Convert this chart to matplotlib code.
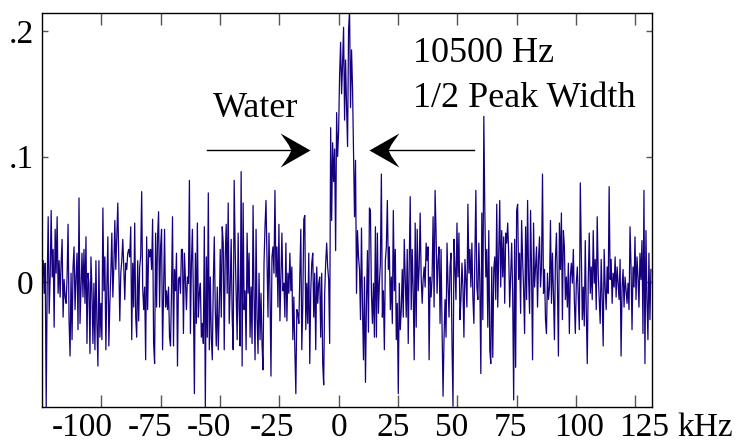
# Water peak spectrum (noise + resonance near 0 kHz)

import numpy as np
import matplotlib
matplotlib.use('Agg')
import matplotlib.pyplot as plt
from matplotlib.path import Path
from matplotlib.transforms import ScaledTranslation

# signal values, in thousandths, left to right
seg_a = [17, -9, 15, -100, -1, 52, -25, 4, 57, 4,
         26, -36, 42, 7, 52, -9, 17, -12, 15, 34,
         -28, 2, -12, -17, 4, 46, -31, -59, 7, -46,
         12, 28, -22, 4, 23, -38, 67, -33, -4, 23,
         -12, 26, -17, 36, -49, 7, -1, -57, 20, -7,
         -49, -1, -54, 17, -33, -67, 17, -44, -17, -46,
         59, -7, 20, -54, -4, 36, -51, -17, 7, 39,
         -12, 12, 49, 10, 36, 63, 15, -31, 7, 17,
         34, 12, -14, 15, 10, 23, 26, 20, 44, -46,
         15, -20, 47, -28, -44, 17, -31, 12, 20, 72,
         -4, -22, -4]
seg_b = [-62, 36, -22, 26, 20, 26, 10, 50, -49, -65,
         39, -20, 36, 56, -20, 28, 42, -54, -9, 42,
         -20, -7, -22, -4, -44, -51, -7, 52, -51, 10,
         -7, 23, -67, 2, 4, -9, 26, 26, -41, 23,
         2, -22, 4, -1, 81, -41, 15, 42, -14, -89,
         23, -33, 47, -28, -9, -1, -44, -33, -49, 44,
         -100, 20, -44, 71, -54, 4, -44, -62, -1, 36,
         -22, -51, -4, -54, -22, 26, -28, 44, 31, -54,
         20, 46, -9, 63, -33, -4, 34, -28, -54, 81,
         26, -12, -46, 39, -22, -51, 88, -67, 63, -22,
         -7]
seg_c = [-54, 39, -9, 23, -44, -4, -49, 61, -12, -62,
         42, -28, -57, 7, -46, -9, -49, -70, 15, 44,
         65, 20, -28, 39, -7, -75, 20, 28, 7, 73,
         4, 28, -20, 46, -31, 4, 39, -7, -1, -28,
         31, -31, 7, -9, 23, -7, 12, -46, -12, -54,
         -89, -22, -25, -33, 4, 42, -54, -17, 50, 53,
         -38, -1, -33, 23, -65, -7, 15, 23, -28, 7,
         -54, 12, -17, -1, 4, -44, 7, -65, -82, -9,
         15, 31, 12, 2, -49]
peak = [123, 49, 111, 80, 106, 25, 135, 100, 120, 165,
        191, 150, 174, 203, 129, 177, 140, 108, 201, 216,
        139, 185, 155, 105, 52, 97, -9, 41, 20, 10,
        -30, 43, -20, -62, 4, -80, -17, 25, -40, 59]
seg_d = [57, -9, -33, -1, -44, 44, -44, 39, -25, -1,
         15, 86, -28, -7, -54, 17, 28, 65, 10, 28,
         -22, 4, -33, 57, -7, 26, -46, -17, -89, -1,
         -38, -22, 10, -28, 34, 4, -28, 26, -49, 15,
         68, -22, 26, -7, -62, 47, -36, 42, -7, 12,
         55, 4, -17, 2, 12, -4, 31, 17, 28, -62,
         4, -12, 4, 52, -20, 73, 39, -9, 17, 28,
         -33, 26, -36, -91, -44, -14, -44, 31, -1, -28,
         12]
seg_e = [23, -49, -99, 34, 12, -14, 47, 4, 39, -30,
         -14, 15, -4, -44, 18, 2, -20, 62, 7, 26,
         -4, 31, -12, -33, 18, 73, -4, -14, 31, -1,
         -73, 55, -30, 132, 57, 4, 26, -36, 41, -54,
         -65, 12, -60, 10, 20, -14, 62, -20, 23, 65,
         -4, 41, 4, 36, -17, 39, 31, 47, 23, -20,
         7, 31, -9, -94, 34, -68, 57, 62, 2, 23,
         -25, 49, 18, -6, -41, 44, -14, 65, 4, -25,
         57, 7, -62, 47, -4, 12, 28, -20, 18, 36,
         -4, 12, 86, -9, 10, -30, -41, 7, -14]
seg_f = [-4, 49, -17, 23, -9, -46, 18, 39, -1, -59,
         47, 10, 55, -30, 41, 28, -14, 4, -20, 15,
         -41, 4, 15, -1, 26, -14, -41, -1, 12, -14,
         -38, 79, 23, -30, -4, -35, 33, -22, -65, 2,
         39, -9, 12, -14, 41, -1, 18, -22, 52, 7,
         -14, -33, 18, -12, -51, 26, -4, -22, 12, -9,
         76, 2, 18, -17, 7, -4, 20, -12, 12, -1,
         -14, 18, -59, -4, 10, -20, 4, -6, -17, -1,
         -22, 44, 12, -38, 12, -4, 36, -14, 20, 4,
         -20, 23, 2, 33, -41, 73, -65, 41, -14, -46,
         23, -30, 10]

freq_start = -124.5   # kHz, first sample
freq_end = 131.6      # kHz, last sample

xtick_vals = [-100, -75, -50, -25, 0, 25, 50, 75, 100, 125]
# the original labels sit a little off their ticks (pixels, + = right)
xlabel_shift = [-19, -11, -11, -7, 0, -5, -6, -6, 3, 9]
ytick_vals = [0, 0.1, 0.2]
ytick_labels = ['0', '.1', '.2']

plt.rcParams['font.family'] = ['Liberation Serif', 'DejaVu Serif']
plt.rcParams['axes.unicode_minus'] = False


def head_marker(direction):
    # stealth-like arrow head, tip at the origin
    pts = [(0, 0), (-1, 0.57), (-0.74, 0.2), (-0.64, 0),
           (-0.74, -0.2), (-1, -0.57), (0, 0)]
    pts = [(direction * x, y) for x, y in pts]
    codes = [Path.MOVETO] + [Path.LINETO] * 5 + [Path.CLOSEPOLY]
    return Path(pts, codes)


signal = np.array(seg_a + seg_b + seg_c + peak + seg_d + seg_e + seg_f) / 1000.0
freq = np.linspace(freq_start, freq_end, len(signal))

fig = plt.figure(figsize=(7.49, 4.45), dpi=100)
ax = fig.add_axes([0.0561, 0.086, 0.8139, 0.884])

ax.plot(freq, signal, color='#17007f', lw=0.9)

ax.set_xlim(-125.0, 131.9)
ax.set_ylim(-0.0994, 0.2141)

ax.set_xticks(xtick_vals)
ax.set_xticklabels([str(v) for v in xtick_vals])
ax.set_yticks(ytick_vals)
ax.set_yticklabels(ytick_labels)

ax.tick_params(axis='both', direction='in', top=True, right=True,
               labelsize=24, color='#555555', width=1.0)
ax.tick_params(axis='x', length=8.5, pad=4)
ax.tick_params(axis='y', length=4.5, pad=6)
for sp in ax.spines.values():
    sp.set_linewidth(1.0)
    sp.set_color('black')

for lab, dx in zip(ax.get_xticklabels(), xlabel_shift):
    lab.set_transform(lab.get_transform() +
                      ScaledTranslation(dx / 100.0, 0, fig.dpi_scale_trans))

# unit label after the last tick
ax.annotate('kHz', xy=(1, 0), xycoords='axes fraction', xytext=(18.5, -4),
            textcoords='offset points', ha='left', va='top', fontsize=24)

# annotations
ax.text(-52.9, 0.1317, 'Water', fontsize=26, va='baseline')
ax.text(31.3, 0.1755, '10500 Hz', fontsize=26, va='baseline')
ax.text(31.3, 0.1398, '1/2 Peak Width', fontsize=26, va='baseline')

arrow_y = 0.105
ax.plot([-55.5, -16.0], [arrow_y, arrow_y], color='black', lw=1.0)
ax.plot([-12.1], [arrow_y], marker=head_marker(1), ms=43, color='black', mew=0)
ax.plot([57.0, 16.5], [arrow_y, arrow_y], color='black', lw=1.0)
ax.plot([12.7], [arrow_y], marker=head_marker(-1), ms=43, color='black', mew=0)

plt.savefig('out.png', dpi=100)
